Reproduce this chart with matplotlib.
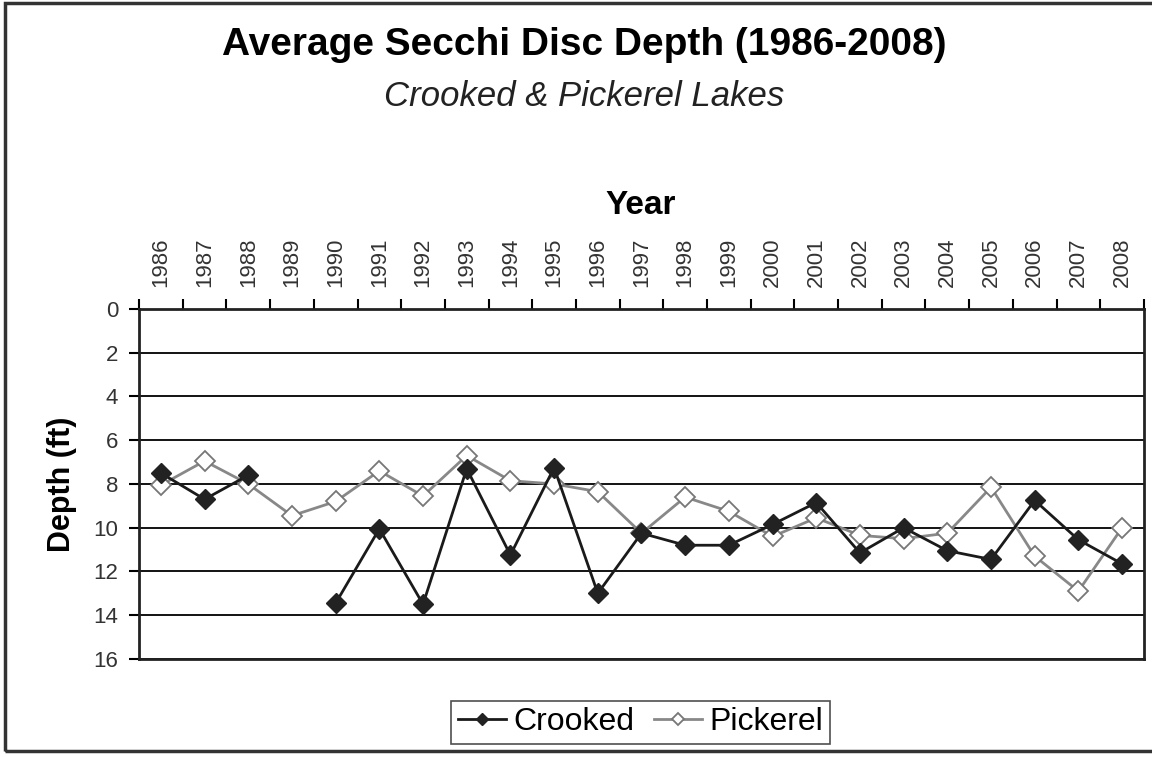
import numpy as np
import matplotlib
matplotlib.use('Agg')
import matplotlib.pyplot as plt
from matplotlib.patches import Rectangle

plt.rcParams['font.family'] = ['Liberation Sans', 'DejaVu Sans']

# Average Secchi depth per year (ft)
years = [str(y) for y in range(1986, 2009)]
crooked = [7.5, 8.7, 7.6, np.nan, 13.45, 10.05, 13.5, 7.3, 11.25, 7.25, 13.0,
           10.25, 10.8, 10.8, 9.85, 8.85, 11.15, 10.0, 11.05, 11.45, 8.75, 10.55, 11.65]
pickerel = [8.05, 6.95, 8.0, 9.45, 8.8, 7.4, 8.55, 6.7, 7.85, 8.0, 8.35,
            10.25, 8.6, 9.25, 10.4, 9.55, 10.35, 10.5, 10.25, 8.15, 11.3, 12.9, 10.0]
depth_ticks = [0, 2, 4, 6, 8, 10, 12, 14, 16]

fig = plt.figure(figsize=(11.52, 7.57), dpi=100)
fig.patches.append(Rectangle((0.004, 0.008), 1.2, 0.988, transform=fig.transFigure,
                             fill=False, edgecolor='#333333', linewidth=2.5))

ax = fig.add_axes([0.1207, 0.1295, 0.8723, 0.4623])
x = np.arange(len(years))

ax.plot(x, pickerel, color='#888888', linewidth=2, marker='D', markersize=10,
        markerfacecolor='white', markeredgecolor='#777777', markeredgewidth=1.3,
        label='Pickerel', zorder=3)
ax.plot(x, crooked, color='#1a1a1a', linewidth=2, marker='D', markersize=10,
        markerfacecolor='#222222', markeredgecolor='#222222',
        label='Crooked', zorder=4)

ax.set_xlim(-0.5, len(years) - 0.5)
ax.set_ylim(16, 0)
ax.set_yticks(depth_ticks)
ax.yaxis.grid(True, color='black', linewidth=1.3)
ax.set_axisbelow(True)

ax.xaxis.tick_top()
ax.set_xticks(x)
ax.set_xticklabels(years, rotation=90, fontsize=16, color='#333333')
ax.set_xticks(np.arange(-0.5, len(years)), minor=True)
ax.tick_params(axis='x', which='major', length=0, pad=16)
ax.tick_params(axis='x', which='minor', length=7, width=1.5, direction='out', top=True)
ax.tick_params(axis='y', length=7, width=1.5, direction='out', labelsize=16,
               labelcolor='#333333', pad=8)
ax.set_ylabel('Depth (ft)', fontsize=22, fontweight='bold', labelpad=12)

for side, sp in ax.spines.items():
    sp.set_linewidth(2)
    sp.set_color('#222222')

fig.text(0.507, 0.94, 'Average Secchi Disc Depth (1986-2008)', ha='center', va='center',
         fontsize=28, fontweight='bold')
fig.text(0.507, 0.872, 'Crooked & Pickerel Lakes', ha='center', va='center',
         fontsize=25, style='italic', color='#222222')
fig.text(0.5565, 0.729, 'Year', ha='center', va='center', fontsize=24, fontweight='bold')

handles, labels = ax.get_legend_handles_labels()
leg = fig.legend(handles[::-1], labels[::-1], loc='center', bbox_to_anchor=(0.556, 0.0456),
                 ncol=2, fontsize=23, frameon=True, fancybox=False, handlelength=1.5,
                 handletextpad=0.25, columnspacing=0.6, borderpad=0.2, borderaxespad=0,
                 markerscale=0.6)
leg.get_frame().set_edgecolor('#222222')
leg.get_frame().set_linewidth(1.2)

fig.savefig('out.png', dpi=100)
